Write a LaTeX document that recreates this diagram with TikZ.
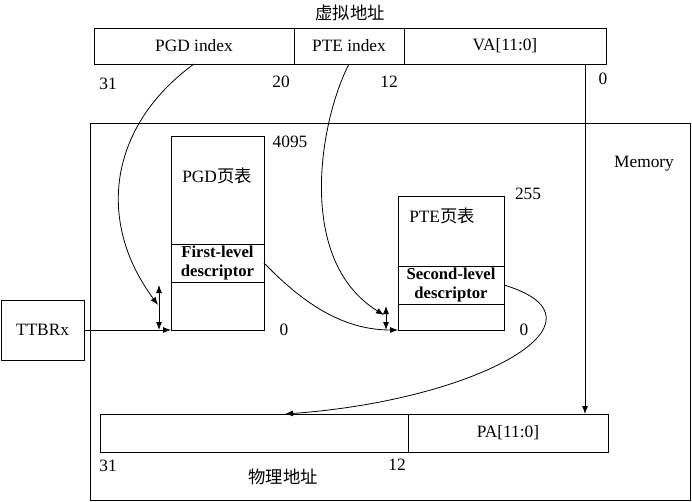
\documentclass[tikz,border=0pt]{standalone}
\usepackage{fontspec}
\setmainfont{Liberation Serif}
\newfontfamily\cjk{Noto Sans CJK SC}
\usepackage{tikz}
\usetikzlibrary{arrows.meta}
\newcommand\pxu{0.75pt}
\tikzstyle{cell} = [draw,inner sep=0pt,outer sep=0pt,minimum width=#1*\pxu,minimum height=36*\pxu]
\tikzstyle{desc} = [cell=#1,minimum height=38*\pxu,align=center,font=\fontsize{12.5}{14.5}\selectfont\bfseries]
\tikzstyle{lbl} = [inner sep=0pt]
\tikzstyle{ptr} = [-{Latex[length=6pt,width=4.5pt]}]
\tikzstyle{span} = [{Latex[length=6pt,width=4.5pt]}-{Latex[length=6pt,width=4.5pt]}]
\begin{document}
\begin{tikzpicture}[x=\pxu,y=-\pxu,line width=0.6pt,font=\fontsize{13}{15.6}\selectfont]
\useasboundingbox (0,0) rectangle (692,502);

\node[cell=600,minimum height=377*\pxu] (mem) at (390,311.5) {};
\node[lbl] (memname) at (644,164) {Memory};

% virtual address
\node[lbl] (vaname) at (350,13) {\cjk 虚拟地址};
\node[cell=200] (pgdidx) at (194,46) {PGD index};
\node[cell=110] (pteidx) at (349,46) {PTE index};
\node[cell=202] (vaoff) at (505,46) {VA[11:0]};
\node[lbl] (va31) at (108,84) {31};
\node[lbl] (va20) at (281,82) {20};
\node[lbl] (va12) at (389,82) {12};
\node[lbl] (va0) at (603,79) {0};

% tables
\node[cell=93,minimum height=194*\pxu] (pgd) at (217.5,233) {};
\node[desc=93] (pgdd) at (217.5,263) {First-level\\descriptor};
\node[lbl] (pgdname) at (217,176) {PGD\cjk 页表};
\node[lbl] (pgdmax) at (290,142) {4095};
\node[lbl] (pgdmin) at (284,330) {0};

\node[cell=106,minimum height=134*\pxu] (pte) at (451,263) {};
\node[desc=106] (pted) at (451,285) {Second-level\\descriptor};
\node[lbl] (ptename) at (442,216) {PTE\cjk 页表};
\node[lbl] (ptemax) at (528,194) {255};
\node[lbl] (ptemin) at (524,330) {0};

\node[cell=83,minimum height=60*\pxu] (ttbr) at (42.5,330) {TTBRx};

% physical address
\node[cell=308,minimum height=38*\pxu] (pahi) at (254,433) {};
\node[cell=200,minimum height=38*\pxu] (paoff) at (508,433) {PA[11:0]};
\node[lbl] (pa31) at (108,466) {31};
\node[lbl] (pa12) at (397,465) {12};
\node[lbl] (paname) at (283,477) {\cjk 物理地址};

\coordinate (pgdin) at (158,305);
\coordinate (ptein) at (384,315);
\coordinate (pgdtop) at (159,285);
\coordinate (pgdbase) at (159,330);
\coordinate (ptetop) at (386,306);
\coordinate (ptebase) at (386,330);
\coordinate (vaoffdn) at (585,64);
\coordinate (pain) at (285,414);

\draw[ptr] (ttbr) -- (pgd.south west);
\draw[ptr] (pgdidx.south) .. controls (110,125) and (95,220) .. (pgdin);
\draw[ptr] (pteidx.south) .. controls (320,120) and (295,260) .. (ptein);
\draw[ptr] (pgdd.east) .. controls (300,300) and (340,330) .. (pte.south west);
\draw[ptr] (pted.east) .. controls (620,320) and (480,400) .. (pain);
\draw[ptr] (vaoffdn) -- (vaoffdn |- paoff.north);
\draw[span] (pgdtop) -- (pgdbase);
\draw[span] (ptetop) -- (ptebase);

\end{tikzpicture}
\end{document}
